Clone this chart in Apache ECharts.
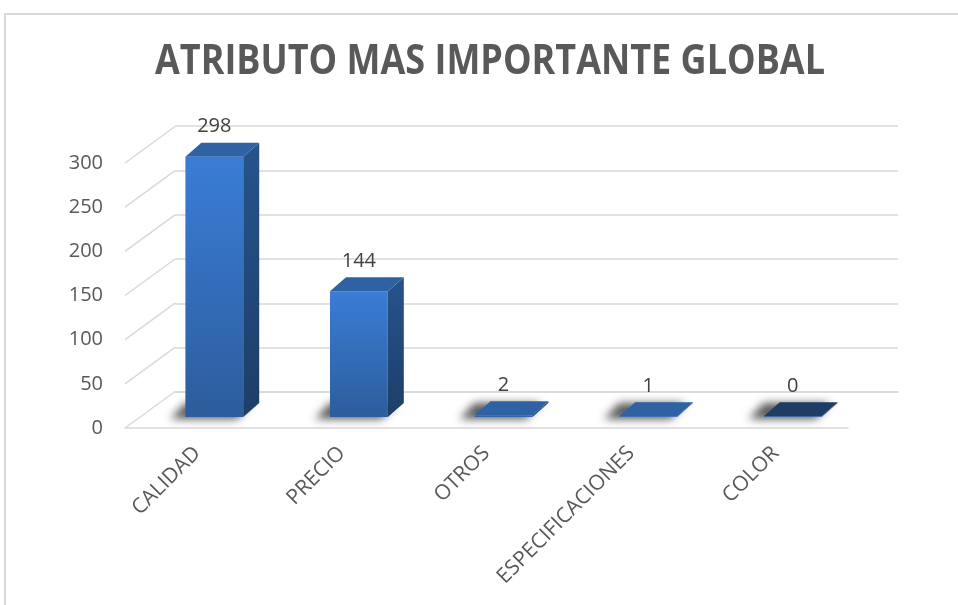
<!DOCTYPE html>
<html>
<head>
<meta charset="utf-8">
<script src="https://cdn.jsdelivr.net/npm/echarts@6/dist/echarts.min.js"></script>
<style>
  html, body { margin: 0; padding: 0; background: #ffffff; }
  #chart { width: 958px; height: 605px; }
</style>
</head>
<body>
<div id="chart"></div>
<script>
// Chart data
const titleText = 'ATRIBUTO MAS IMPORTANTE GLOBAL';
const categories = ['CALIDAD', 'PRECIO', 'OTROS', 'ESPECIFICACIONES', 'COLOR'];
const values = [298, 144, 2, 1, 0];
const yTicks = [0, 50, 100, 150, 200, 250, 300];

const FONT = '"Open Sans", "Noto Sans", sans-serif';
const TEXT_COLOR = '#595959';
const GRID_COLOR = '#d9d9d9';

// Oblique depth of the back wall relative to the front axis plane
const WALL_DX = 50, WALL_DY = -36.5;
// Depth of each column
const BAR_DX = 16, BAR_DY = -14;

const chart = echarts.init(document.getElementById('chart'), null, { renderer: 'canvas' });

// Fit the title to the width of the heading band using a condensed horizontal scale
function titleScale(text, size, targetWidth) {
  const ctx = document.createElement('canvas').getContext('2d');
  ctx.font = 'bold ' + size + 'px ' + FONT;
  return targetWidth / ctx.measureText(text).width;
}
const TITLE_SIZE = 41;
const tScale = titleScale(titleText, TITLE_SIZE, 670);

// Diagonal edges joining the front value axis to the back wall
function renderDiagonal(params, api) {
  const p = api.coord([0, api.value(0)]);
  const x = params.coordSys.x;
  return {
    type: 'line',
    shape: { x1: x, y1: p[1], x2: x + WALL_DX, y2: p[1] + WALL_DY },
    style: { stroke: GRID_COLOR, lineWidth: 1.5 },
    silent: true
  };
}

// Box-shaped column with front, side and top faces plus a soft floor shadow
function renderColumn(params, api) {
  const i = api.value(0);
  const v = api.value(1);
  const base = api.coord([i, 0]);
  const top = api.coord([i, v]);
  const w = api.size([1, 0])[0] * 0.4;
  const x0 = base[0] - w / 2, x1 = base[0] + w / 2;
  const yb = base[1];
  const yt = Math.min(top[1], yb - 0.8);
  const isZero = v === 0;
  const OFF = 3000;

  const children = [
    // floor shadow, drawn only through its blurred shadow
    {
      type: 'polygon',
      shape: { points: [
        [x0 - 15 - OFF, yb + 2], [x1 - 6 - OFF, yb + 2],
        [x1 + BAR_DX - 8 - OFF, yb + BAR_DY], [x0 + BAR_DX - 16 - OFF, yb + BAR_DY]
      ] },
      style: {
        fill: '#000',
        shadowColor: 'rgba(0,0,0,0.65)',
        shadowBlur: 9,
        shadowOffsetX: OFF,
        shadowOffsetY: 0
      },
      silent: true
    },
    // front face
    {
      type: 'rect',
      shape: { x: x0, y: yt, width: w, height: yb - yt },
      style: {
        fill: new echarts.graphic.LinearGradient(0, 0, 0, 1, [
          { offset: 0, color: '#3a7dd6' },
          { offset: 1, color: '#2c5d9c' }
        ])
      }
    },
    // right side face
    {
      type: 'polygon',
      shape: { points: [[x1, yt], [x1 + BAR_DX, yt + BAR_DY], [x1 + BAR_DX, yb + BAR_DY], [x1, yb]] },
      style: {
        fill: new echarts.graphic.LinearGradient(0, 0, 0, 1, [
          { offset: 0, color: '#27548c' },
          { offset: 1, color: '#1d3e68' }
        ])
      }
    },
    // top face
    {
      type: 'polygon',
      shape: { points: [[x0, yt], [x1, yt], [x1 + BAR_DX, yt + BAR_DY], [x0 + BAR_DX, yt + BAR_DY]] },
      style: { fill: isZero ? '#1f3c64' : '#2e62a4' }
    },
    // value label
    {
      type: 'text',
      style: {
        text: String(v),
        x: (x0 + x1) / 2,
        y: yt + BAR_DY - 6,
        align: 'center',
        verticalAlign: 'bottom',
        font: '20px ' + FONT,
        fill: '#404040'
      },
      silent: true
    }
  ];
  return { type: 'group', children: children };
}

const option = {
  backgroundColor: '#ffffff',
  animation: false,
  graphic: [
    {
      type: 'rect',
      shape: { x: 5, y: 14, width: 1200, height: 800 },
      style: { fill: 'none', stroke: '#d9d9d9', lineWidth: 2 },
      silent: true,
      z: -10
    },
    {
      type: 'text',
      x: 490,
      y: 62,
      scaleX: tScale,
      scaleY: 1,
      style: {
        text: titleText,
        x: 0,
        y: 0,
        align: 'center',
        verticalAlign: 'middle',
        font: 'bold ' + TITLE_SIZE + 'px ' + FONT,
        fill: TEXT_COLOR
      },
      silent: true
    }
  ],
  grid: [
    // front plane: value labels, category labels, floor front edge
    { left: 125, right: 110, top: 163, bottom: 177 },
    // back wall with horizontal gridlines
    { left: 175, right: 60, top: 126, bottom: 213 },
    // plane through the columns
    { left: 142, right: 93, top: 155, bottom: 188 }
  ],
  xAxis: [
    {
      gridIndex: 0,
      type: 'category',
      data: categories,
      axisLine: { show: true, lineStyle: { color: GRID_COLOR, width: 1.5 } },
      axisTick: { show: false },
      axisLabel: {
        rotate: 45,
        margin: 22,
        interval: 0,
        color: TEXT_COLOR,
        fontSize: 21,
        fontFamily: FONT,
        padding: [0, 0, 0, 0]
      }
    },
    {
      gridIndex: 1,
      type: 'category',
      data: categories,
      axisLine: { show: true, lineStyle: { color: GRID_COLOR, width: 1.5 } },
      axisTick: { show: false },
      axisLabel: { show: false }
    },
    {
      gridIndex: 2,
      type: 'category',
      data: categories,
      show: false
    }
  ],
  yAxis: [
    {
      gridIndex: 0,
      type: 'value',
      min: 0, max: 300, interval: 50,
      axisLine: { show: false },
      axisTick: { show: false },
      splitLine: { show: false },
      axisLabel: { margin: 22, color: TEXT_COLOR, fontSize: 20, fontFamily: FONT }
    },
    {
      gridIndex: 1,
      type: 'value',
      min: 0, max: 300, interval: 50,
      axisLine: { show: false },
      axisTick: { show: false },
      axisLabel: { show: false },
      splitLine: { show: true, lineStyle: { color: GRID_COLOR, width: 1.5 } }
    },
    {
      gridIndex: 2,
      type: 'value',
      min: 0, max: 300, interval: 50,
      show: false
    }
  ],
  series: [
    {
      type: 'custom',
      name: 'ejes',
      xAxisIndex: 0,
      yAxisIndex: 0,
      data: yTicks.map(t => [t]),
      renderItem: renderDiagonal,
      silent: true,
      z: 1
    },
    {
      type: 'custom',
      name: 'Atributo',
      xAxisIndex: 2,
      yAxisIndex: 2,
      data: values.map((v, i) => [i, v]),
      encode: { x: 0, y: 1 },
      renderItem: renderColumn,
      z: 5
    }
  ]
};

chart.setOption(option);
</script>
</body>
</html>
